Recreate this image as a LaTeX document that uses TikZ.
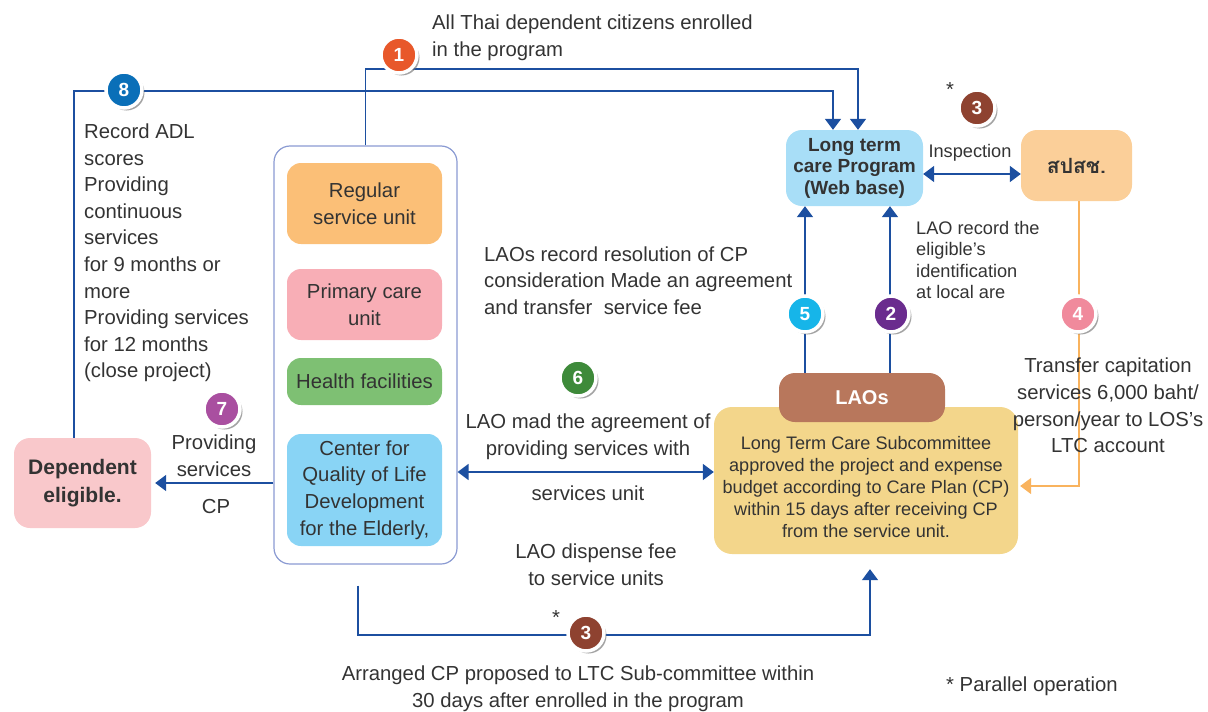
\documentclass[tikz,border=0pt]{standalone}
\usepackage{fontspec}
\setmainfont{Liberation Sans}
\newfontfamily\thaifont[Script=Thai]{Loma}
\usetikzlibrary{arrows.meta,shadows}

\definecolor{txt}{HTML}{333333}
\definecolor{linkblue}{HTML}{1C4FA0}
\definecolor{grpline}{HTML}{8A9AD2}
\definecolor{fundorange}{HTML}{F9B35E}
\definecolor{cReg}{HTML}{FBBF77}
\definecolor{cPri}{HTML}{F8AEB6}
\definecolor{cHea}{HTML}{7EC073}
\definecolor{cCen}{HTML}{89D4F5}
\definecolor{cDep}{HTML}{F9C8CB}
\definecolor{cProg}{HTML}{A8DEF7}
\definecolor{cNhso}{HTML}{FBCF99}
\definecolor{cLaos}{HTML}{B8775C}
\definecolor{cYel}{HTML}{F3D68B}
\definecolor{nOne}{HTML}{E8582A}
\definecolor{nTwo}{HTML}{6A2C8E}
\definecolor{nThree}{HTML}{8E4230}
\definecolor{nFour}{HTML}{F08A9C}
\definecolor{nFive}{HTML}{16B5E9}
\definecolor{nSix}{HTML}{3E8A3A}
\definecolor{nSeven}{HTML}{A94FA0}
\definecolor{nEight}{HTML}{0A6FB8}

\tikzset{
  ubox/.style={rectangle, rounded corners=14pt, inner sep=0pt, align=center, text=txt},
  lbl/.style={inner sep=0pt, text=txt},
  small/.style={font=\fontsize{18.2}{21.3}\selectfont},
  conn/.style={draw=linkblue, line width=1.8pt},
  arr/.style={-{Triangle[width=16pt,length=11pt]}},
  darr/.style={{Triangle[width=16pt,length=11pt]}-{Triangle[width=16pt,length=11pt]}},
  numc/.style={circle, minimum size=36pt, inner sep=0pt, draw=white, line width=3.5pt,
    font=\fontsize{19}{19}\selectfont\bfseries, text=white,
    drop shadow={shadow xshift=2.5pt, shadow yshift=-2.5pt, fill=black!55, opacity=0.65}},
}

\begin{document}
\begin{tikzpicture}[x=1pt, y=-1pt, font=\fontsize{20.3}{26.6}\selectfont]
\useasboundingbox (0,0) rectangle (1208,712);

% service units group
\node[ubox, draw=grpline, line width=1.2pt, rounded corners=16pt,
      minimum width=183pt, minimum height=418pt] (grp) at (365.5,355) {};
\node[ubox, fill=cReg, minimum width=155pt, minimum height=81pt] (reg) at (364.5,203.5) {Regular\\service unit};
\node[ubox, fill=cPri, minimum width=155pt, minimum height=71pt] (pri) at (364.5,304.5) {Primary care\\unit};
\node[ubox, fill=cHea, minimum width=155pt, minimum height=47pt] (hea) at (364.5,381.5) {Health facilities};
\node[ubox, fill=cCen, minimum width=155pt, minimum height=112pt] (cen) at (364.5,490) {Center for\\Quality of Life\\Development\\for the Elderly,};

% other boxes
\node[ubox, fill=cDep, rounded corners=16pt, minimum width=137pt, minimum height=90pt,
      font=\fontsize{21}{28.5}\selectfont\bfseries] (dep) at (82.5,483) {Dependent\\eligible.};
\node[ubox, fill=cProg, rounded corners=16pt, minimum width=137pt, minimum height=76pt,
      font=\fontsize{19}{21.5}\selectfont\bfseries] (prog) at (854.5,168) {Long term\\care Program\\(Web base)};
\node[ubox, fill=cNhso, rounded corners=16pt, minimum width=111pt, minimum height=71pt,
      font=\fontsize{21}{24}\thaifont\bfseries] (nhso) at (1076.5,165.5) {สปสช.};
\node[ubox, fill=cYel, rounded corners=18pt, minimum width=304pt, minimum height=147pt] (ybox) at (866,480.5) {};
\node[lbl, align=center, font=\fontsize{18.1}{22}\selectfont] (ytext) at (866,487)
  {Long Term Care Subcommittee\\approved the project and expense\\budget according to Care Plan (CP)\\within 15 days after receiving CP\\from the service unit.};
\node[ubox, fill=cLaos, rounded corners=16pt, minimum width=166pt, minimum height=49pt,
      text=white, font=\fontsize{20}{24}\selectfont\bfseries] (laos) at (862,397.5) {LAOs};

% helper coordinates for connector routes
\coordinate (y1) at (0,69);
\coordinate (y8) at (0,91);
\coordinate (y6) at (0,472);
\coordinate (y3) at (0,174);
\coordinate (y4) at (0,486);
\coordinate (yb) at (0,635);
\coordinate (x5) at (805,0);
\coordinate (x2) at (890,0);
\coordinate (x4) at (1079,0);
\coordinate (xb) at (358,0);
\coordinate (xr) at (870,0);

% connectors
\draw[conn,arr] (grp.north) -- (grp.north |- y1) -| ([xshift=3.5pt]prog.north);
\draw[conn,arr] ([xshift=-8.5pt]dep.north) -- ([xshift=-8.5pt]dep.north |- y8) -| ([xshift=-21.5pt]prog.north);
\draw[conn,arr,shorten >=4pt] (grp.west |- dep.east) -- (dep.east);
\draw[conn,darr] (grp.east |- y6) -- (ybox.west |- y6);
\draw[conn,arr] (laos.north -| x5) -- (prog.south -| x5);
\draw[conn,arr] (laos.north -| x2) -- (prog.south -| x2);
\draw[conn,darr] (prog.east |- y3) -- (nhso.west |- y3);
\draw[draw=fundorange, line width=1.8pt, arr, shorten >=2pt] (nhso.south -| x4) |- (ybox.east |- y4);
\draw[conn,arr] ([yshift=-21pt]grp.south -| xb) |- (xr |- yb) -- ([yshift=-15pt]ybox.south -| xr);

% step numbers
\node[numc, fill=nOne] (n1) at (399,55) {1};
\node[numc, fill=nEight] (n8) at (124,90) {8};
\node[numc, fill=nThree] (n3a) at (977,108) {3};
\node[numc, fill=nFive] (n5) at (805,314) {5};
\node[numc, fill=nTwo] (n2) at (891,314) {2};
\node[numc, fill=nFour] (n4) at (1078,314) {4};
\node[numc, fill=nSix] (n6) at (578,378) {6};
\node[numc, fill=nSeven] (n7) at (222,409) {7};
\node[numc, fill=nThree] (n3b) at (586,633) {3};

% labels
\node[lbl, align=left, anchor=west] (t1) at (432,37.5) {All Thai dependent citizens enrolled\\in the program};
\node[lbl, align=left, anchor=west] (t8) at (84,253) {Record ADL\\scores\\Providing\\continuous\\services\\for 9 months or\\more\\Providing services\\for 12 months\\(close project)};
\node[lbl, align=center] (t7) at (214,456) {Providing\\services};
\node[lbl] (t7b) at (216,507) {CP};
\node[lbl, align=center] (t6) at (588,437) {LAO mad the agreement of\\providing services with};
\node[lbl] (t6b) at (588,493) {services unit};
\node[lbl, align=left, anchor=west] (t5) at (484,280.5) {LAOs record resolution of CP\\consideration Made an agreement\\and transfer\ \ service fee};
\node[lbl, small, align=left, anchor=west] (t2) at (916,260) {LAO record the\\eligible’s\\identification\\at local are};
\node[lbl, small] (tins) at (970,153) {Inspection};
\node[lbl, align=center] (t4) at (1108,405.5) {Transfer capitation\\services 6,000 baht/\\person/year to LOS’s\\LTC account};
\node[lbl, align=center] (t3b) at (596,565) {LAO dispense fee\\to service units};
\node[lbl, align=center] (t3c) at (578,689) {Arranged CP proposed to LTC Sub-committee within\\30 days after enrolled in the program};
\node[lbl] (s3a) at (950,90) {*};
\node[lbl] (s3b) at (556,618) {*};
\node[lbl, anchor=west] (tpar) at (946,686) {* Parallel operation};
\end{tikzpicture}
\end{document}
